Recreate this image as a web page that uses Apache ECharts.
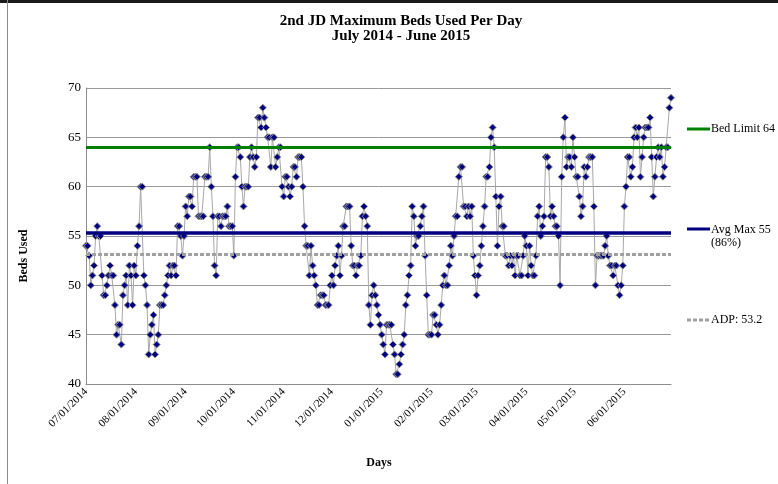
<!DOCTYPE html>
<html><head><meta charset="utf-8">
<script src="https://cdn.jsdelivr.net/npm/echarts@6/dist/echarts.min.js"></script>
<style>html,body{margin:0;padding:0;background:#fff}#c{width:778px;height:484px}</style>
</head><body><div id="c"></div>
<script>
// Daily maximum beds used, one array per month
const jul2014 = [54,54,53,50,51,52,55,56,55,55,51,49,49,50,51,52,51,51,48,45,46,46,44,49,50,51,48,52,51,48,52];
const aug2014 = [51,54,56,60,60,51,50,48,43,45,46,47,43,44,45,48,48,48,49,50,51,52,51,52,52,51,56,56,55,53,55];
const sep2014 = [58,57,59,59,58,61,61,61,57,57,57,57,61,61,61,64,60,57,52,51,57,57,56,57,57,57,58,56,56,56];
const oct2014 = [53,61,64,64,63,60,58,60,60,60,63,64,63,62,63,67,67,66,68,67,66,65,65,62,65,65,62,63,64,64,60];
const nov2014 = [59,61,61,60,59,60,62,62,61,63,63,63,60,56,54,54,51,54,52,51,50,48,48,49,49,49,48,48,48,50];
const dec2014 = [51,50,52,53,54,51,53,56,56,58,58,58,54,52,52,51,52,52,53,57,58,57,56,48,46,49,50,49,48,47,46];
const jan2015 = [45,44,43,46,46,46,46,44,43,41,41,42,43,44,45,48,49,51,52,58,57,54,55,55,56,57,58,53,49,45,45];
const feb2015 = [45,47,47,46,45,46,48,50,51,50,50,52,54,53,55,57,57,61,62,62,58,58,57,58,57,58,53,51];
const mar2015 = [49,51,52,54,56,58,61,61,62,65,66,64,59,54,58,59,56,56,53,53,52,53,52,53,51,53,53,51,51,53,55];
const apr2015 = [54,51,54,52,51,51,53,57,58,55,56,57,63,63,62,57,58,57,56,56,55,50,61,65,67,62,63,63,62,65];
const may2015 = [63,61,61,59,57,58,62,61,62,63,63,63,58,50,53,53,53,53,53,54,55,53,52,52,51,52,52,50,49,50,52];
const jun2015 = [58,60,63,63,61,62,65,66,65,66,61,63,65,66,66,66,67,63,59,61,63,64,63,64,61,62,64,64,68,69];

const monthKeys = ['07/2014','08/2014','09/2014','10/2014','11/2014','12/2014','01/2015','02/2015','03/2015','04/2015','05/2015','06/2015'];
const monthData = [jul2014,aug2014,sep2014,oct2014,nov2014,dec2014,jan2015,feb2015,mar2015,apr2015,may2015,jun2015];

const bedLimit = 64;
const avgMax = 55.3;
const adp = 53.2;
const legendLabels = ['Bed Limit 64', 'Avg Max 55\n(86%)', 'ADP: 53.2'];

const categories = [];
const values = [];
monthKeys.forEach((k, i) => {
  const [mm, yyyy] = k.split('/');
  monthData[i].forEach((v, d) => {
    categories.push(mm + '/' + String(d + 1).padStart(2, '0') + '/' + yyyy);
    values.push(v);
  });
});

const FONT = '"Liberation Serif", "Times New Roman", serif';
const chart = echarts.init(document.getElementById('c'));
const legendY = [129, 229, 320];
chart.setOption({
  animation: false,
  backgroundColor: '#fff',
  title: {
    text: '2nd JD Maximum Beds Used Per Day\nJuly 2014 - June 2015',
    left: 396, top: 8, textAlign: 'center',
    textStyle: { fontFamily: FONT, fontSize: 15, fontWeight: 'bold', color: '#000', lineHeight: 15.5 }
  },
  grid: { left: 86, right: 107, top: 88, bottom: 100 },
  xAxis: {
    type: 'category', data: categories, boundaryGap: false,
    axisLine: { show: true, lineStyle: { color: '#8c8c8c', width: 1 } },
    axisTick: { show: false },
    axisLabel: {
      interval: (idx, val) => val.slice(3, 5) === '01',
      rotate: 45, fontFamily: FONT, fontSize: 11, color: '#000', margin: 6
    },
    splitLine: { show: false }
  },
  yAxis: {
    type: 'value', min: 40, max: 70, interval: 5,
    axisLine: { show: true, lineStyle: { color: '#8c8c8c', width: 1 } },
    axisTick: { show: false },
    axisLabel: { fontFamily: FONT, fontSize: 13, color: '#000', margin: 5 },
    splitLine: { show: true, lineStyle: { color: '#999', width: 1 } }
  },
  series: [
    {
      name: 'Bed Limit', type: 'line', data: [], z: 2, silent: true,
      markLine: { symbol: 'none', silent: true, label: { show: false },
        lineStyle: { color: '#008000', width: 3, type: 'solid' }, data: [{ yAxis: bedLimit }] }
    },
    {
      name: 'Avg Max', type: 'line', data: [], z: 2, silent: true,
      markLine: { symbol: 'none', silent: true, label: { show: false },
        lineStyle: { color: '#000080', width: 3.5, type: 'solid' }, data: [{ yAxis: avgMax }] }
    },
    {
      name: 'ADP', type: 'line', data: [], z: 2, silent: true,
      markLine: { symbol: 'none', silent: true, label: { show: false },
        lineStyle: { color: '#a0a0a0', width: 3, type: [4, 2] }, data: [{ yAxis: adp }] }
    },
    {
      name: 'Beds Used', type: 'line', data: values, z: 3,
      symbol: 'diamond', symbolSize: 7, showAllSymbol: true,
      lineStyle: { color: '#a8a8a8', width: 1 },
      itemStyle: { color: '#000080', borderColor: '#8c8c8c', borderWidth: 1 }
    }
  ],
  graphic: [
    { type: 'rect', shape: { x: 0, y: 0, width: 778, height: 3 }, style: { fill: '#1a1a1a' } },
    { type: 'line', shape: { x1: 7.5, y1: 0, x2: 7.5, y2: 484 }, style: { stroke: '#8a8a8a', lineWidth: 1 } },
    { type: 'text', x: 24, y: 256, rotation: Math.PI / 2,
      style: { text: 'Beds Used', font: 'bold 12px ' + FONT, fill: '#000', align: 'center', verticalAlign: 'middle' } },
    { type: 'text', x: 379, y: 463,
      style: { text: 'Days', font: 'bold 12px ' + FONT, fill: '#000', align: 'center', verticalAlign: 'middle' } },
    { type: 'line', shape: { x1: 687, y1: legendY[0], x2: 710, y2: legendY[0] }, style: { stroke: '#008000', lineWidth: 3 } },
    { type: 'text', x: 711, y: legendY[0], style: { text: legendLabels[0], font: '12px ' + FONT, fill: '#000', verticalAlign: 'middle' } },
    { type: 'line', shape: { x1: 687, y1: legendY[1], x2: 710, y2: legendY[1] }, style: { stroke: '#000080', lineWidth: 3 } },
    { type: 'text', x: 711, y: legendY[1] - 6, style: { text: legendLabels[1], font: '12px ' + FONT, fill: '#000', verticalAlign: 'top', lineHeight: 13 } },
    { type: 'line', shape: { x1: 687, y1: legendY[2], x2: 710, y2: legendY[2] }, style: { stroke: '#a0a0a0', lineWidth: 3, lineDash: [4, 2] } },
    { type: 'text', x: 711, y: legendY[2], style: { text: legendLabels[2], font: '12px ' + FONT, fill: '#000', verticalAlign: 'middle' } }
  ]
});
</script></body></html>
